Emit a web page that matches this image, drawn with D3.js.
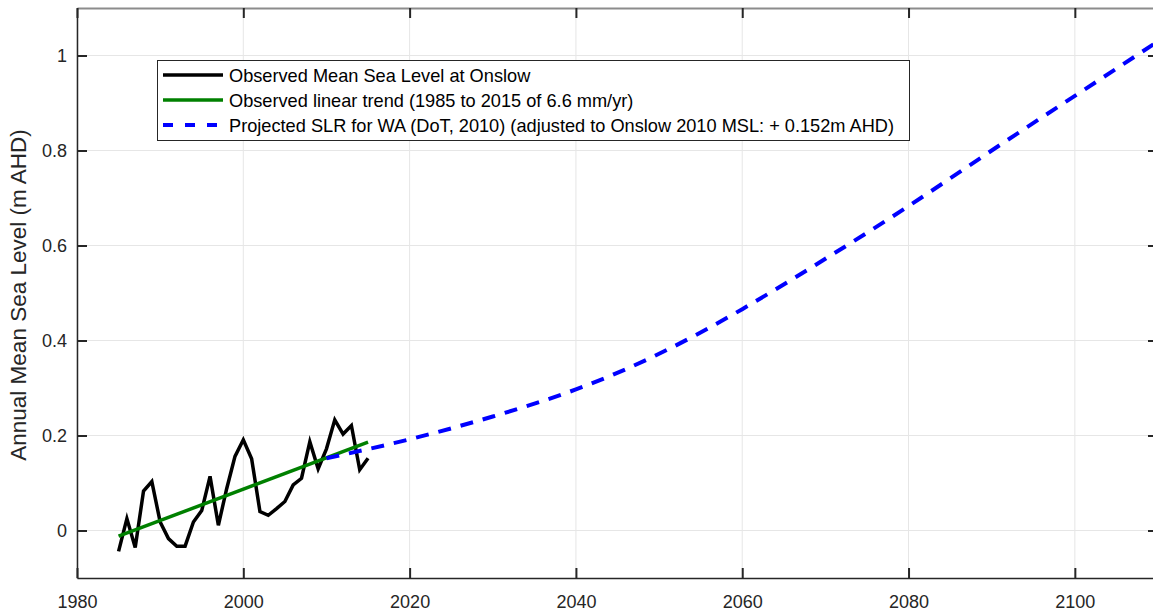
<!DOCTYPE html>
<html>
<head>
<meta charset="utf-8">
<script src="https://cdn.jsdelivr.net/npm/d3@7"></script>
<style>
  body { margin: 0; background: #fff; }
  svg { display: block; }
</style>
</head>
<body>
<div id="chart"></div>
<script>
// observed annual mean sea level at Onslow (m AHD)
const obs_years = [1985,1986,1987,1988,1989,1990,1991,1992,1993,1994,1995,1996,1997,1998,1999,2000,
                   2001,2002,2003,2004,2005,2006,2007,2008,2009,2010,2011,2012,2013,2014,2015]
const obs_values = [-0.044,0.025,-0.036,0.083,0.103,0.018,-0.017,-0.033,-0.033,0.018,0.042,0.114,0.011,0.088,0.156,0.191,
                    0.151,0.040,0.032,0.046,0.061,0.096,0.110,0.187,0.130,0.172,0.233,0.203,0.221,0.128,0.152]

// linear trend end points
const trend_years = [1985, 2015]
const trend_values = [-0.012, 0.186]

// projected SLR (DoT 2010) adjusted to Onslow
const proj_years = [2010,2020,2030,2040,2050,2060,2070,2080,2090,2100,2110]
const proj_values = [0.152,0.192,0.240,0.297,0.372,0.466,0.572,0.683,0.800,0.915,1.030]

const x_ticks = [1980,2000,2020,2040,2060,2080,2100]
const y_ticks = [0,0.2,0.4,0.6,0.8,1]

const legend_labels = ['Observed Mean Sea Level at Onslow',
                       'Observed linear trend (1985 to 2015 of 6.6 mm/yr)',
                       'Projected SLR for WA (DoT, 2010) (adjusted to Onslow 2010 MSL: + 0.152m AHD)']

const svg_width = 1153
const svg_height = 612
const plot_left = 77
const plot_right = 1158   // right border sits just outside the picture
const plot_top = 8
const plot_bottom = 578
const axis_color = '#262626'
const font = 'Liberation Sans, Arial, sans-serif'

const xScale = d3.scaleLinear().domain([1980, 2110]).range([plot_left, plot_right])
const yScale = d3.scaleLinear().domain([-0.1, 1.1]).range([plot_bottom, plot_top])

const svg = d3.select('#chart')
  .append('svg')
  .attr('width', svg_width)
  .attr('height', svg_height)
  .style('overflow', 'hidden')

// grid
svg.append('g')
  .selectAll('line')
  .data(x_ticks)
  .join('line')
    .attr('x1', d => xScale(d)).attr('x2', d => xScale(d))
    .attr('y1', plot_top).attr('y2', plot_bottom)
    .attr('stroke', '#e6e6e6').attr('stroke-width', 1)

svg.append('g')
  .selectAll('line')
  .data(y_ticks)
  .join('line')
    .attr('x1', plot_left).attr('x2', plot_right)
    .attr('y1', d => yScale(d)).attr('y2', d => yScale(d))
    .attr('stroke', '#e6e6e6').attr('stroke-width', 1)

// data lines
const obs = obs_years.map((y, i) => ({year: y, value: obs_values[i]}))
const trend = trend_years.map((y, i) => ({year: y, value: trend_values[i]}))
const proj = proj_years.map((y, i) => ({year: y, value: proj_values[i]}))

const line = d3.line().x(d => xScale(d.year)).y(d => yScale(d.value))
const curve_line = d3.line().x(d => xScale(d.year)).y(d => yScale(d.value)).curve(d3.curveNatural)

svg.append('path')
  .datum(obs)
  .attr('d', line)
  .attr('fill', 'none').attr('stroke', '#000').attr('stroke-width', 3.5)
  .attr('stroke-linejoin', 'miter')

svg.append('path')
  .datum(trend)
  .attr('d', line)
  .attr('fill', 'none').attr('stroke', '#008000').attr('stroke-width', 3.5)

svg.append('path')
  .datum(proj)
  .attr('d', curve_line)
  .attr('fill', 'none').attr('stroke', '#0000ff').attr('stroke-width', 4)
  .attr('stroke-dasharray', '13,10')

// axes, ticks pointing inward like matlab
const xAxis = svg.append('g')
  .attr('transform', `translate(0,${plot_bottom})`)
  .call(d3.axisBottom(xScale).tickValues(x_ticks).tickFormat(d3.format('d')).tickSizeInner(-10).tickSizeOuter(0).tickPadding(17))
xAxis.select('.domain').attr('stroke', axis_color).attr('stroke-width', 1.5)
xAxis.selectAll('.tick line').attr('stroke', axis_color).attr('stroke-width', 2)
xAxis.selectAll('text').attr('fill', axis_color).attr('font-family', font).attr('font-size', '18px')

const topAxis = svg.append('g')
  .attr('transform', `translate(0,${plot_top})`)
  .call(d3.axisTop(xScale).tickValues(x_ticks).tickFormat('').tickSizeInner(-10).tickSizeOuter(0))
topAxis.select('.domain').attr('stroke', '#8c8c8c').attr('stroke-width', 2)
topAxis.selectAll('.tick line').attr('stroke', axis_color).attr('stroke-width', 2)

const yAxis = svg.append('g')
  .attr('transform', `translate(${plot_left},0)`)
  .call(d3.axisLeft(yScale).tickValues(y_ticks).tickFormat(d => d === 0 || d === 1 ? d3.format('d')(d) : d3.format('.1f')(d)).tickSizeInner(-10).tickSizeOuter(0).tickPadding(10))
yAxis.select('.domain').attr('stroke', axis_color).attr('stroke-width', 1.5)
yAxis.selectAll('.tick line').attr('stroke', axis_color).attr('stroke-width', 2)
yAxis.selectAll('text').attr('fill', axis_color).attr('font-family', font).attr('font-size', '18px')

const rightAxis = svg.append('g')
  .attr('transform', `translate(${plot_right},0)`)
  .call(d3.axisRight(yScale).tickValues(y_ticks).tickFormat('').tickSizeInner(-10).tickSizeOuter(0))
rightAxis.select('.domain').attr('stroke', axis_color).attr('stroke-width', 1.5)
rightAxis.selectAll('.tick line').attr('stroke', axis_color).attr('stroke-width', 2)

// y label
svg.append('text')
  .attr('transform', `translate(26,${(plot_top + plot_bottom) / 2 + 2}) rotate(-90)`)
  .attr('text-anchor', 'middle')
  .attr('fill', axis_color)
  .attr('font-family', font)
  .attr('font-size', '22.5px')
  .text('Annual Mean Sea Level (m AHD)')

// legend
const legend = svg.append('g')
legend.append('rect')
  .attr('x', 157.5).attr('y', 60.5).attr('width', 752).attr('height', 80)
  .attr('fill', '#fff').attr('stroke', axis_color).attr('stroke-width', 1)

const legend_styles = [
  {color: '#000', width: 3.5, dash: null},
  {color: '#008000', width: 3.5, dash: null},
  {color: '#0000ff', width: 4, dash: '10,12'}
]

legend_labels.forEach((label, i) => {
  const ly = 75 + i * 25
  legend.append('line')
    .attr('x1', 163).attr('x2', 223)
    .attr('y1', ly).attr('y2', ly)
    .attr('stroke', legend_styles[i].color)
    .attr('stroke-width', legend_styles[i].width)
    .attr('stroke-dasharray', legend_styles[i].dash)
  legend.append('text')
    .attr('x', 229).attr('y', ly + 6.5)
    .attr('fill', '#000')
    .attr('font-family', font)
    .attr('font-size', '18.2px')
    .text(label)
})
</script>
</body>
</html>
